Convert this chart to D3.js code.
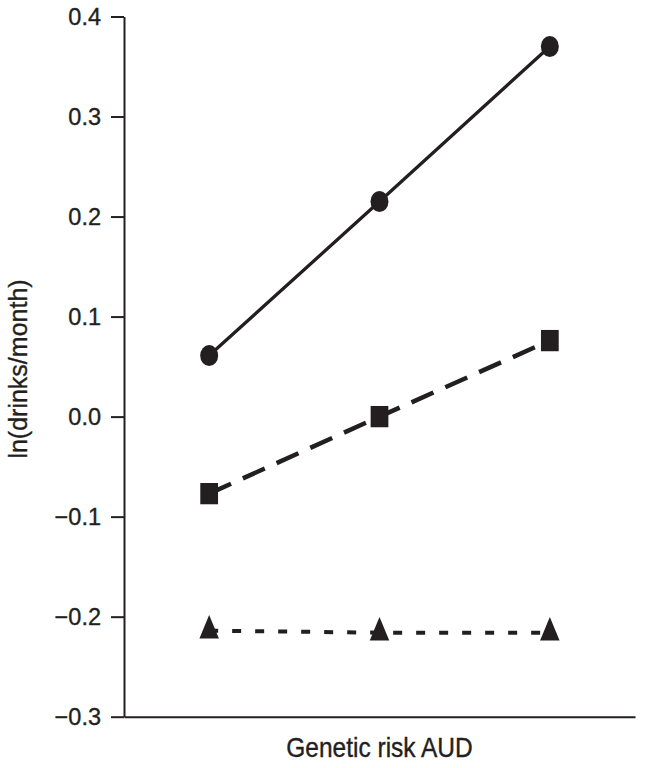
<!DOCTYPE html>
<html>
<head>
<meta charset="utf-8">
<script src="https://cdn.jsdelivr.net/npm/d3@7"></script>
<style>
  body { margin: 0; background: #fff; }
  text { font-family: "Liberation Sans", Arial, sans-serif; fill: #231f20; stroke: #231f20; stroke-width: 0.35px; }
</style>
</head>
<body>
<svg width="645" height="768"></svg>
<script>
const riskLevels = ["low", "mid", "high"];
const circleValues = [0.061, 0.215, 0.37];
const squareValues = [-0.077, 0.0, 0.076];
const triangleValues = [-0.214, -0.216, -0.216];
const yTicks = [-0.3, -0.2, -0.1, 0.0, 0.1, 0.2, 0.3, 0.4];

const INK = "#231f20";

const main = function() {
  const svg = d3.select("svg");
  const left = 124;
  const right = 635;
  const top = 16.5;
  const bottom = 716.7;

  const x = d3
    .scalePoint()
    .domain(riskLevels)
    .range([left, right])
    .padding(0.5);
  const y = d3
    .scaleLinear()
    .domain([-0.3, 0.4])
    .range([bottom, top]);

  const yAxis = svg
    .append("g")
    .attr("transform", `translate(${left},0)`)
    .call(
      d3
        .axisLeft(y)
        .tickValues(yTicks)
        .tickFormat(d3.format(".1f"))
        .tickSize(13)
        .tickSizeOuter(0)
        .tickPadding(10)
    );
  yAxis.selectAll("path, line").attr("stroke", INK).attr("stroke-width", 2);
  yAxis
    .selectAll("text")
    .attr("font-size", 23.5)
    .attr("font-family", null)
    .attr("fill", INK);

  const xAxis = svg
    .append("g")
    .attr("transform", `translate(0,${bottom})`)
    .call(d3.axisBottom(d3.scaleLinear().range([left, right])).tickValues([]).tickSizeOuter(0));
  xAxis.select("path").attr("stroke", INK).attr("stroke-width", 2);

  svg
    .append("text")
    .attr("transform", `translate(${(left + right) / 2},757) scale(1,1.1)`)
    .attr("text-anchor", "middle")
    .attr("font-size", 24.5)
    .text("Genetic risk AUD");

  svg
    .append("text")
    .attr("transform", "translate(27,369) rotate(-90)")
    .attr("text-anchor", "middle")
    .attr("font-size", 25)
    .text("ln(drinks/month)");

  const series = [
    { values: circleValues, symbol: d3.symbolCircle, size: 254, sy: 1.17, dash: null, width: 3.3 },
    { values: squareValues, symbol: d3.symbolSquare, size: 315, sy: 1.2, dash: "24,13", width: 4.5 },
    { values: triangleValues, symbol: d3.symbolTriangle, size: 165, sy: 1.4, dash: "9,14", width: 4 }
  ];

  const line = d3
    .line()
    .x((d, i) => x(riskLevels[i]))
    .y(d => y(d));

  series.forEach(s => {
    svg
      .append("path")
      .datum(s.values)
      .attr("d", line)
      .attr("fill", "none")
      .attr("stroke", INK)
      .attr("stroke-width", s.width)
      .attr("stroke-dasharray", s.dash);

    svg
      .append("g")
      .selectAll("path")
      .data(s.values)
      .enter()
      .append("path")
      .attr("d", d3.symbol().type(s.symbol).size(s.size))
      .attr("transform", (d, i) => `translate(${x(riskLevels[i])},${y(d)}) scale(1,${s.sy})`)
      .attr("fill", INK);
  });
};

window.onload = main;
</script>
</body>
</html>
